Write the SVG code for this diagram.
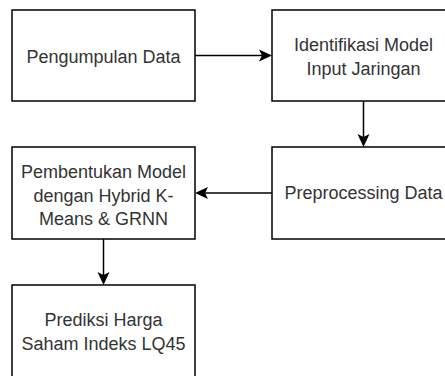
<svg xmlns="http://www.w3.org/2000/svg" width="445" height="376" viewBox="0 0 445 376">
<style>
.box{fill:#ffffff;stroke:#000000;stroke-width:1.5}
.lbl{font-family:"Liberation Sans",Arial,Helvetica,sans-serif;font-size:18px;fill:#333333;text-anchor:middle}
.edge{fill:none;stroke:#000000;stroke-width:1.5}
</style>
<defs>
<marker id="arr" markerUnits="userSpaceOnUse" markerWidth="14" markerHeight="14" refX="3" refY="6" orient="auto" overflow="visible">
<path d="M0,0 L13,6 L0,12 L3,6 Z" fill="#000000"/>
</marker>
</defs>
<rect width="445" height="376" fill="#ffffff"/>
<g id="n1">
<rect class="box" x="12" y="10" width="183" height="91"/>
<text class="lbl" x="103.5" y="63">Pengumpulan Data</text>
</g>
<g id="n2">
<rect class="box" x="272" y="10" width="183" height="91"/>
<text class="lbl" x="363.5" y="51">Identifikasi Model</text>
<text class="lbl" x="363.5" y="74.5">Input Jaringan</text>
</g>
<g id="n3">
<rect class="box" x="272" y="147" width="183" height="92"/>
<text class="lbl" x="363.5" y="198.5">Preprocessing Data</text>
</g>
<g id="n4">
<rect class="box" x="12" y="147" width="183" height="92"/>
<text class="lbl" x="103.5" y="178">Pembentukan Model</text>
<text class="lbl" x="103.5" y="201.5">dengan Hybrid K-</text>
<text class="lbl" x="103.5" y="225">Means &amp; GRNN</text>
</g>
<g id="n5">
<rect class="box" x="12" y="285" width="183" height="95"/>
<text class="lbl" x="103.5" y="326">Prediksi Harga</text>
<text class="lbl" x="103.5" y="350">Saham Indeks LQ45</text>
</g>
<g id="connectors">
<line class="edge" x1="195" y1="55.5" x2="262" y2="55.5" marker-end="url(#arr)"/>
<line class="edge" x1="363.5" y1="101" x2="363.5" y2="137" marker-end="url(#arr)"/>
<line class="edge" x1="272" y1="193" x2="205" y2="193" marker-end="url(#arr)"/>
<line class="edge" x1="103.5" y1="239" x2="103.5" y2="275" marker-end="url(#arr)"/>
</g>
</svg>
